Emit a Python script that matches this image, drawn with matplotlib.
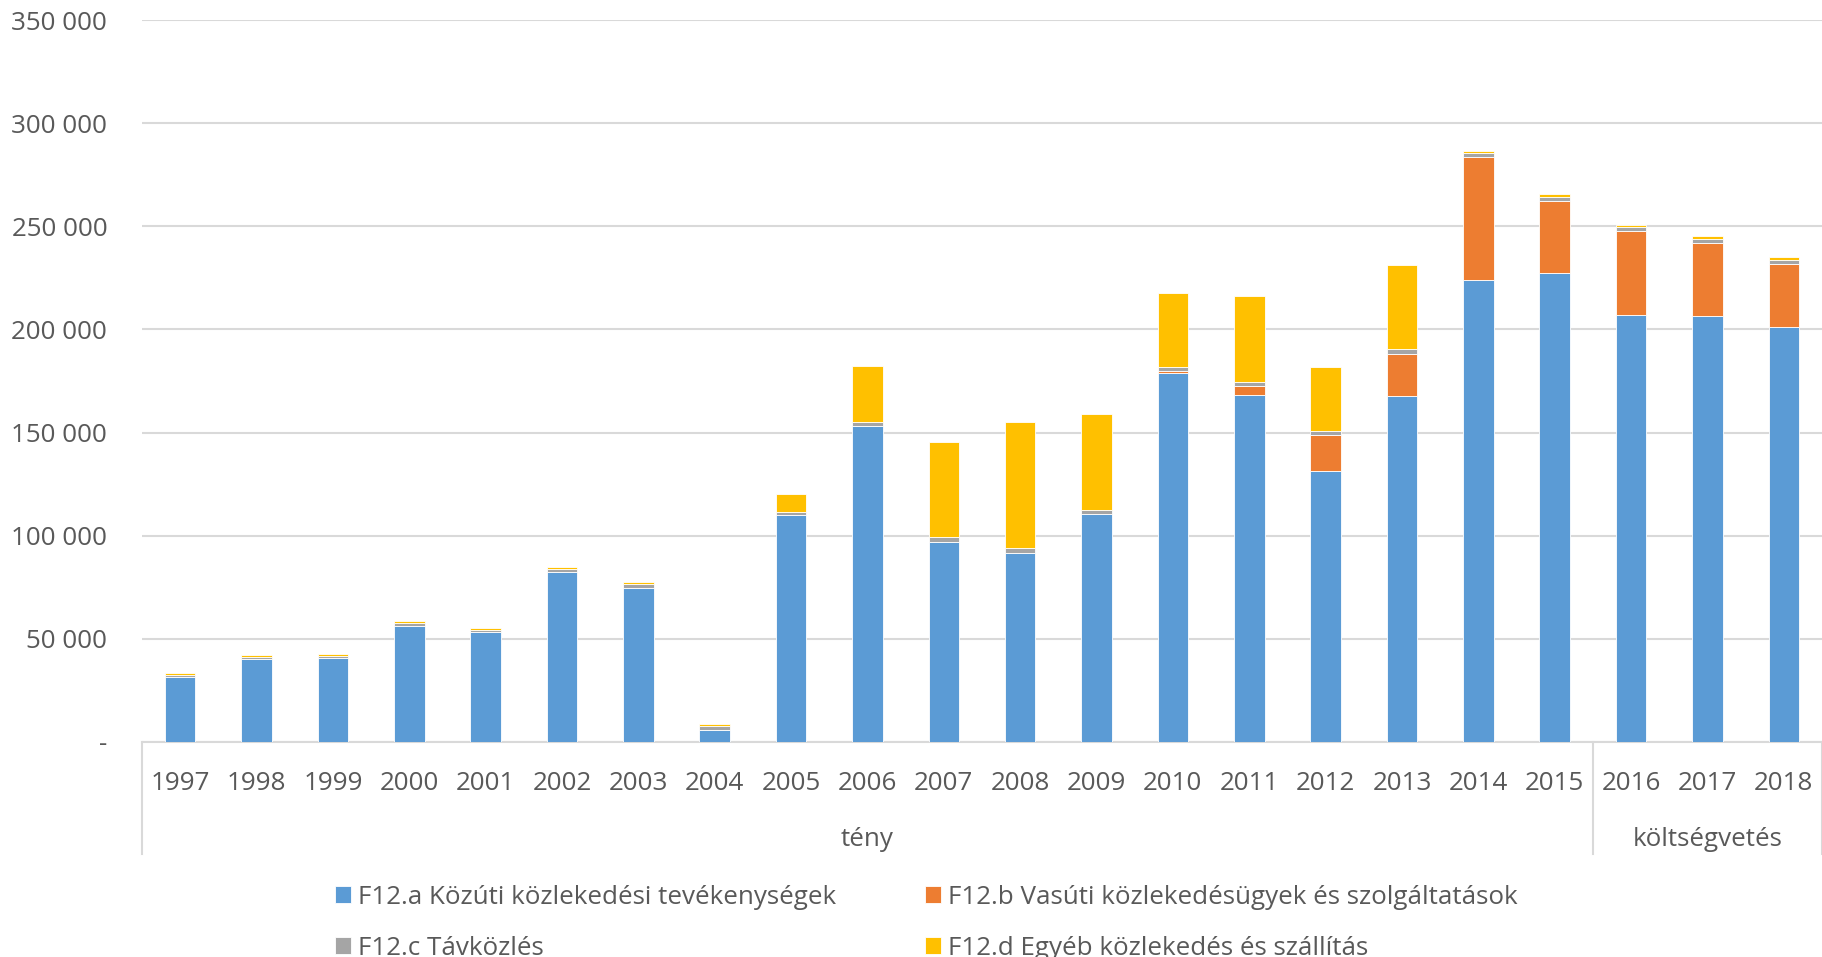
import matplotlib
matplotlib.use('Agg')
import matplotlib.pyplot as plt
import matplotlib.transforms as tsf
from matplotlib.ticker import FuncFormatter
import numpy as np

plt.rcParams['font.family'] = ['Open Sans', 'DejaVu Sans']

# Data
years = ['1997', '1998', '1999', '2000', '2001', '2002', '2003', '2004', '2005', '2006', '2007',
         '2008', '2009', '2010', '2011', '2012', '2013', '2014', '2015', '2016', '2017', '2018']
kozuti = [31300, 39900, 40500, 56100, 53000, 82300, 74500, 5800, 110000, 153200, 97100,
          91750, 110700, 179000, 168400, 131200, 167500, 223800, 227300, 206800, 206300, 201400]
vasuti = [0, 0, 0, 0, 0, 0, 0, 0, 0, 0, 0,
          0, 0, 1000, 4400, 17600, 20400, 60000, 35100, 40900, 35800, 30600]
tavkozles = [1300, 1100, 1000, 1300, 1100, 1300, 1800, 1600, 1450, 1800, 2300,
             2150, 1600, 1900, 1800, 2100, 2400, 1900, 1800, 1800, 1800, 1800]
egyeb = [800, 1100, 1000, 1100, 1300, 1000, 1100, 1300, 8600, 27300, 46000,
         61100, 46600, 35900, 41700, 30700, 40800, 1100, 1500, 1100, 1600, 1500]
groups = ['tény', 'költségvetés']
group_sizes = [19, 3]
labels = ['F12.a Közúti közlekedési tevékenységek',
          'F12.b Vasúti közlekedésügyek és szolgáltatások',
          'F12.c Távközlés',
          'F12.d Egyéb közlekedés és szállítás']
colors = ['#5B9BD5', '#ED7D31', '#A5A5A5', '#FFC000']

txt_col = '#595959'
grid_col = '#D9D9D9'
fs = 18.7
W, H = 1822, 957

fig = plt.figure(figsize=(W / 100, H / 100), dpi=100)
ax = fig.add_axes([142 / W, 1 - 741.7 / H, 1 - 142 / W, (741.7 - 20.3) / H])

x = np.arange(len(years))
bottom = np.zeros(len(years))
bars = []
for vals, col, lab in zip([kozuti, vasuti, tavkozles, egyeb], colors, labels):
    vals = np.array(vals, dtype=float)
    b = ax.bar(x, vals, 0.4, bottom=bottom, color=col, edgecolor='white',
               linewidth=0.6, label=lab, zorder=3)
    bottom += vals
    bars.append(b)

ax.set_xlim(-0.5, len(years) - 0.5)
ax.set_ylim(0, 350000)
ax.set_yticks(np.arange(0, 350001, 50000))
ax.yaxis.set_major_formatter(FuncFormatter(
    lambda v, pos: '-' if v == 0 else '{:,}'.format(int(v)).replace(',', ' ')))
ax.set_xticks(x)
ax.set_xticklabels(years)
ax.yaxis.grid(True, color=grid_col, lw=1.5, zorder=0)
ax.set_axisbelow(True)
ax.tick_params(axis='y', length=0, pad=25, labelsize=fs, labelcolor=txt_col)
ax.tick_params(axis='x', length=0, pad=21, labelsize=fs, labelcolor=txt_col)
for s in ['top', 'right', 'left']:
    ax.spines[s].set_visible(False)
ax.spines['bottom'].set_color(grid_col)
ax.spines['bottom'].set_linewidth(1.5)

# group labels under the years
trans = tsf.blended_transform_factory(ax.transData, ax.transAxes)
start = -0.5
ax.plot([start, start], [0, -0.1557], transform=trans, clip_on=False, color=grid_col, lw=1.5)
for name, n in zip(groups, group_sizes):
    ax.text(start + n / 2, -0.1440, name, transform=trans, ha='center', va='baseline',
            fontsize=fs, color=txt_col)
    start += n
    ax.plot([start, start], [0, -0.1557], transform=trans, clip_on=False, color=grid_col, lw=1.5)

handles = [bars[0], bars[2], bars[1], bars[3]]
leg_labels = [labels[0], labels[2], labels[1], labels[3]]
fig.legend(handles, leg_labels, loc='upper left', bbox_to_anchor=(335 / W, 1 - 885 / H),
           ncol=2, frameon=False, fontsize=fs, handlelength=0.62, handleheight=0.62,
           handletextpad=0.25, columnspacing=3.45, labelspacing=1.0, borderpad=0,
           borderaxespad=0, labelcolor=txt_col)

fig.savefig('out.png', dpi=100)
